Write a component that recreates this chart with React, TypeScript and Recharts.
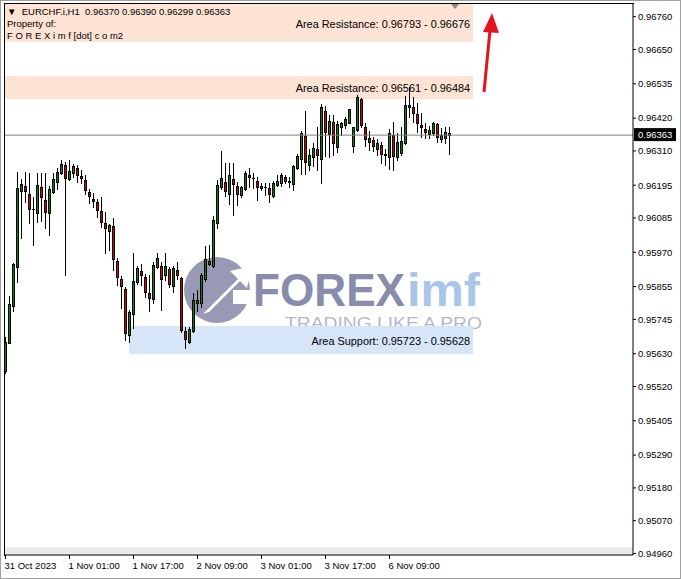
import React from "react";
import { ComposedChart, Bar, XAxis, YAxis, ReferenceArea, ReferenceLine } from "recharts";

// EURCHF.i H1, 31 Oct 09:00 -> 7 Nov 00:00 (bar index = hour slot)
const OPEN = [
  0.95572, 0.95666, 0.95791, 0.95921, 0.96176, 0.96192, 0.96167, 0.96114, 0.96103, 0.96188,
  0.96147, 0.96101, 0.96173, 0.96206, 0.96235, 0.96263, 0.96215, 0.96235, 0.96252, 0.96226,
  0.96212, 0.96171, 0.9615, 0.96138, 0.96109, 0.96067, 0.96042, 0.96058, 0.95941, 0.95879,
  0.95847, 0.95692, 0.95762, 0.95869, 0.95907, 0.95888, 0.95834, 0.95812, 0.95921, 0.95924,
  0.95893, 0.95914, 0.95858, 0.9591, 0.95884, 0.95706, 0.95668, 0.95706, 0.95801, 0.95801,
  0.95882, 0.95941, 0.95925, 0.96069, 0.96188, 0.96207, 0.96167, 0.96217, 0.96194, 0.96161,
  0.96181, 0.96223, 0.96218, 0.96208, 0.96186, 0.9619, 0.96184, 0.96159, 0.96195, 0.96201,
  0.96221, 0.9621, 0.96198, 0.96252, 0.96284, 0.9636, 0.96263, 0.9629, 0.96315, 0.96284,
  0.96444, 0.96366, 0.96408, 0.96324, 0.96391, 0.96396, 0.96405, 0.96326, 0.9638, 0.96483,
  0.96391, 0.96341, 0.96346, 0.96318, 0.96329, 0.96299, 0.96288, 0.96363, 0.96288, 0.96303,
  0.96335, 0.96456, 0.96456, 0.96435, 0.96397, 0.96383, 0.96366, 0.96371, 0.96399, 0.96349,
  0.96352, 0.9637,
];
const HIGH = [
  0.95686, 0.95824, 0.95933, 0.96239, 0.96216, 0.96239, 0.96235, 0.96156, 0.96235, 0.96235,
  0.96235, 0.96192, 0.96237, 0.96252, 0.96281, 0.96274, 0.9628, 0.96266, 0.96263, 0.96246,
  0.96229, 0.96182, 0.96169, 0.9615, 0.96156, 0.96106, 0.96065, 0.96084, 0.9595, 0.9589,
  0.95855, 0.95776, 0.95969, 0.95924, 0.95931, 0.95897, 0.95894, 0.95938, 0.95969, 0.95938,
  0.95967, 0.95921, 0.95924, 0.95938, 0.95888, 0.9572, 0.9572, 0.95833, 0.95844, 0.95899,
  0.95991, 0.95995, 0.96092, 0.96212, 0.9631, 0.9627, 0.96269, 0.96269, 0.96206, 0.96192,
  0.96244, 0.96252, 0.96235, 0.96223, 0.96203, 0.96201, 0.96201, 0.96209, 0.96229, 0.96235,
  0.96229, 0.96223, 0.96263, 0.96299, 0.96378, 0.96443, 0.96318, 0.96335, 0.96391, 0.96467,
  0.9646, 0.96431, 0.96431, 0.96411, 0.96408, 0.96423, 0.96452, 0.96391, 0.96497, 0.96486,
  0.96405, 0.96378, 0.96355, 0.96349, 0.96341, 0.96318, 0.96382, 0.96408, 0.96369, 0.96391,
  0.96494, 0.96524, 0.96491, 0.96471, 0.96437, 0.96405, 0.96394, 0.96408, 0.96405, 0.96386,
  0.96389, 0.9639,
];
const LOW = [
  0.95565, 0.95665, 0.95774, 0.95871, 0.96018, 0.96138, 0.96067, 0.95995, 0.96072, 0.96075,
  0.9605, 0.96027, 0.96169, 0.96181, 0.96232, 0.95893, 0.96212, 0.96221, 0.96206, 0.96201,
  0.96167, 0.96137, 0.96123, 0.96089, 0.96055, 0.95967, 0.95978, 0.9591, 0.95861, 0.95782,
  0.95676, 0.9567, 0.95716, 0.95863, 0.95859, 0.95821, 0.95774, 0.95801, 0.95918, 0.95778,
  0.95876, 0.95855, 0.95838, 0.95879, 0.95704, 0.95648, 0.95665, 0.95704, 0.95774, 0.95787,
  0.95873, 0.95927, 0.95921, 0.9605, 0.96181, 0.96158, 0.96132, 0.96095, 0.96129, 0.96154,
  0.96178, 0.96188, 0.96184, 0.96147, 0.96178, 0.96162, 0.9614, 0.96156, 0.96192, 0.96192,
  0.96201, 0.96188, 0.96178, 0.96248, 0.96232, 0.96232, 0.96246, 0.96259, 0.96246, 0.96203,
  0.96292, 0.96288, 0.96296, 0.96307, 0.96363, 0.96386, 0.96403, 0.96307, 0.96378, 0.96389,
  0.96326, 0.96312, 0.9631, 0.96296, 0.96268, 0.96262, 0.96251, 0.96247, 0.96279, 0.96296,
  0.96333, 0.96425, 0.96408, 0.96374, 0.96357, 0.96352, 0.96352, 0.96363, 0.96341, 0.96341,
  0.96335, 0.96299,
];
const CLOSE = [
  0.9567, 0.95796, 0.95931, 0.96184, 0.96199, 0.96174, 0.96116, 0.96114, 0.96195, 0.96154,
  0.96106, 0.96181, 0.96215, 0.9624, 0.96265, 0.96218, 0.96243, 0.96259, 0.96229, 0.96218,
  0.96178, 0.96158, 0.96143, 0.96112, 0.96072, 0.9605, 0.9606, 0.95946, 0.95886, 0.95857,
  0.95701, 0.95769, 0.95875, 0.95918, 0.95894, 0.95838, 0.95818, 0.95929, 0.95951, 0.95882,
  0.95924, 0.95865, 0.95918, 0.95893, 0.95711, 0.95678, 0.95714, 0.9581, 0.9581, 0.95893,
  0.95947, 0.95931, 0.96078, 0.96195, 0.96218, 0.96177, 0.96229, 0.96199, 0.96165, 0.9619,
  0.96235, 0.96228, 0.96218, 0.9619, 0.96194, 0.96188, 0.96167, 0.96204, 0.96209, 0.96228,
  0.9621, 0.96205, 0.96259, 0.96292, 0.96371, 0.96272, 0.96295, 0.9632, 0.96296, 0.96456,
  0.96372, 0.96411, 0.96335, 0.964, 0.96403, 0.96416, 0.96449, 0.96389, 0.96491, 0.96397,
  0.96349, 0.96352, 0.96326, 0.96337, 0.96301, 0.96295, 0.96369, 0.96292, 0.96341, 0.96343,
  0.96464, 0.96463, 0.96437, 0.96403, 0.96389, 0.96372, 0.9638, 0.96403, 0.96355, 0.96363,
  0.96374, 0.96363,
];

const TIME_TICKS = [0, 16, 32, 48, 64, 80, 96];
const TIME_LABELS = ["31 Oct 2023", "1 Nov 01:00", "1 Nov 17:00", "2 Nov 09:00", "3 Nov 01:00", "3 Nov 17:00", "6 Nov 09:00"];

const PRICE_TICKS = [
  0.9676, 0.9665, 0.96535, 0.9642, 0.9631, 0.96195, 0.96085, 0.9597, 0.95855,
  0.95745, 0.9563, 0.9552, 0.95405, 0.9529, 0.9518, 0.9507, 0.9496,
];

// zones drawn on the chart: [top, bottom] prices, and bar index where they start/stop
const RES_1 = [0.96793, 0.96676];
const RES_2 = [0.96561, 0.96484];
const SUPPORT = [0.95723, 0.95628];
const SUPPORT_START = 30.9;
const ZONE_END = 116.9;

const X_DOMAIN = [-0.375, 156.875];
const Y_DOMAIN = [0.94955, 0.96806];

const FONT = "'Liberation Sans', Arial, sans-serif";
const GREEN = "#0b7d0b";
const RED = "#dc0000";

const data = OPEN.map((o, i) => ({
  i,
  o,
  h: HIGH[i],
  l: LOW[i],
  c: CLOSE[i],
  range: [LOW[i], HIGH[i]],
}));
const last = data[data.length - 1];

function Candle(props: any) {
  const { x, y, width, height, payload } = props;
  const { o, h, l, c } = payload;
  const cx = Math.floor(x + width / 2);
  const span = h - l || 1e-9;
  const py = (v: number) => y + ((h - v) / span) * height;
  const top = Math.round(py(Math.max(o, c)));
  const bot = Math.round(py(Math.min(o, c)));
  return (
    <g shapeRendering="crispEdges">
      <line x1={cx + 0.5} x2={cx + 0.5} y1={Math.round(y)} y2={Math.round(y + height) + 1} stroke="#000" />
      {bot - top < 1 ? (
        <line x1={cx - 1} x2={cx + 2} y1={top + 0.5} y2={top + 0.5} stroke="#000" />
      ) : (
        <rect x={cx - 0.5} y={top + 0.5} width={2} height={bot - top} fill={c >= o ? GREEN : RED} stroke="#000" />
      )}
    </g>
  );
}

function TimeTick(props: any) {
  const { x, y, payload } = props;
  const k = TIME_TICKS.indexOf(payload.value);
  return (
    <text x={x - 1} y={y + 8} fontSize={9.5} fontFamily={FONT} fill="#000">
      {TIME_LABELS[k]}
    </text>
  );
}

function PriceTag(props: any) {
  const { viewBox } = props;
  const xx = viewBox.x + viewBox.width;
  const yy = viewBox.y;
  return (
    <g>
      <rect x={xx + 1} y={yy - 7} width={42} height={13} fill="#000" />
      <text x={xx + 5} y={yy} dy="0.35em" fontSize={9.5} fontFamily={FONT} fill="#fff">
        {last.c.toFixed(5)}
      </text>
    </g>
  );
}

const zoneLabel = (text: string, dy = 0) => ({
  value: text,
  position: "insideRight" as const,
  offset: 3,
  fill: "#000",
  fontSize: 10.9,
  fontFamily: FONT,
  dy,
});

function Watermark() {
  return (
    <svg width={681} height={579} style={{ position: "absolute", left: 0, top: 0 }}>
      <circle cx={217} cy={290} r={33} fill="#9799b5" />
      <path d="M203 314 L238 279 L230 271 L252 266 L247 288 L240 281 L209 312 Z" fill="#fff" />
      <rect x={233} y={290} width={18} height={14} fill="#fff" />
      <text x={253} y={306} fontSize={46} fontWeight="bold" fontFamily={FONT} fill="#8a8cab" textLength={152} lengthAdjust="spacingAndGlyphs">
        FOREX
      </text>
      <text x={407} y={306} fontSize={46} fontWeight="bold" fontFamily={FONT} fill="#a9c6e8" textLength={73} lengthAdjust="spacingAndGlyphs">
        imf
      </text>
      <text x={285} y={329} fontSize={17} fontFamily={FONT} fill="#b5b7c7" textLength={197} lengthAdjust="spacingAndGlyphs">
        TRADING LIKE A PRO
      </text>
    </svg>
  );
}

export default function App() {
  return (
    <div style={{ position: "absolute", left: 0, top: 0, width: 681, height: 579, background: "#fff", overflow: "hidden" }}>
      <div style={{ position: "absolute", left: 5, top: 547, width: 628, height: 8, background: "#ebebeb" }} />
      <Watermark />
      <div style={{ position: "absolute", left: 0, top: 0 }}>
        <ComposedChart width={681} height={579} data={data} margin={{ top: 3, right: 0, bottom: 0, left: 4 }}>
          <ReferenceArea x1={X_DOMAIN[0]} x2={ZONE_END} y1={RES_1[1]} y2={Y_DOMAIN[1]} fill="#fce3d4" fillOpacity={1} stroke="none"
            label={zoneLabel(`Area Resistance: ${RES_1[0].toFixed(5)} - ${RES_1[1].toFixed(5)}`, 2)} />
          <ReferenceArea x1={X_DOMAIN[0]} x2={ZONE_END} y1={RES_2[1]} y2={RES_2[0]} fill="#fce3d4" fillOpacity={1} stroke="none"
            label={zoneLabel(`Area Resistance: ${RES_2[0].toFixed(5)} - ${RES_2[1].toFixed(5)}`, 1)} />
          <ReferenceArea x1={SUPPORT_START} x2={ZONE_END} y1={SUPPORT[1]} y2={SUPPORT[0]} fill="#d6e6f8" fillOpacity={1} stroke="none"
            label={zoneLabel(`Area Support: ${SUPPORT[0].toFixed(5)} - ${SUPPORT[1].toFixed(5)}`, 1)} />
          <XAxis
            dataKey="i"
            type="number"
            domain={X_DOMAIN}
            allowDataOverflow
            ticks={TIME_TICKS}
            interval={0}
            height={24}
            axisLine={{ stroke: "#000" }}
            tickLine={{ stroke: "#000" }}
            tickSize={4}
            tickMargin={2}
            tick={<TimeTick />}
          />
          <YAxis
            orientation="right"
            type="number"
            domain={Y_DOMAIN}
            allowDataOverflow
            ticks={PRICE_TICKS}
            interval={0}
            width={48}
            axisLine={{ stroke: "#000" }}
            tickLine={{ stroke: "#000" }}
            tickSize={3}
            tickMargin={2}
            tickFormatter={(v: number) => v.toFixed(5)}
            tick={{ fontSize: 9.5, fontFamily: FONT, fill: "#000" }}
          />
          <ReferenceLine y={last.c} stroke="#808080" label={<PriceTag />} />
          <Bar dataKey="range" barSize={3} shape={<Candle />} isAnimationActive={false} />
        </ComposedChart>
      </div>
      <div style={{ position: "absolute", left: 4, top: 3, width: 629, height: 552, borderLeft: "1px solid #000", borderTop: "1px solid #000", pointerEvents: "none" }} />
      <div style={{ position: "absolute", left: 7, top: 6, fontFamily: FONT, fontSize: 9.5, lineHeight: "12px", color: "#000", whiteSpace: "pre" }}>
        <div>{"▼  EURCHF.i,H1  " + [last.o, last.h, last.l, last.c].map((v) => v.toFixed(5)).join(" ")}</div>
        <div>Property of:</div>
        <div>F O R E X i m f [dot] c o m2</div>
      </div>
      <svg width={681} height={579} style={{ position: "absolute", left: 0, top: 0, pointerEvents: "none" }}>
        <polygon points="451,4 459,4 455,9" fill="#8a8a8a" />
        <line x1={484} y1={92} x2={490} y2={30} stroke="#e3141f" strokeWidth={3} />
        <polygon points="483,32 499,33 492,13" fill="#e3141f" />
      </svg>
      <div style={{ position: "absolute", left: 0, top: 0, width: 679, height: 577, border: "1px solid #a0a0a0", pointerEvents: "none" }} />
    </div>
  );
}
